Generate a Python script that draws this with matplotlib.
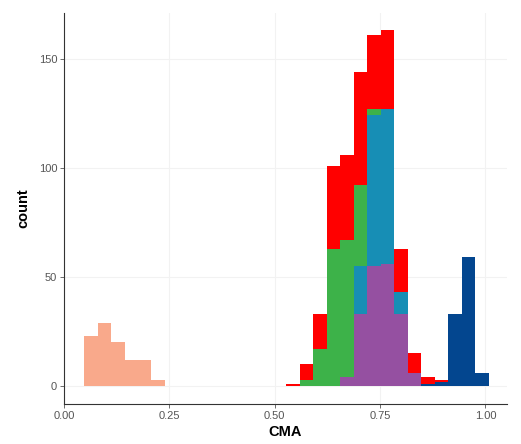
import matplotlib.pyplot as plt
import numpy as np

# histogram bins (30 bins)
bin_start = 0.0474
bin_width = 0.032
n_bins = 30

# counts per bin for each group (bin index -> count)
orange = {0: 23, 1: 29, 2: 20, 3: 12, 4: 12, 5: 3}
purple = {19: 4, 20: 33, 21: 55, 22: 56, 23: 33, 24: 6}
teal = {20: 22, 21: 69, 22: 71, 23: 10}
green = {16: 3, 17: 17, 18: 63, 19: 63, 20: 37, 21: 3}
blue = {25: 1, 26: 2, 27: 33, 28: 59, 29: 6}
red = {15: 1, 16: 7, 17: 16, 18: 38, 19: 39, 20: 52, 21: 34, 22: 36,
       23: 20, 24: 9, 25: 3, 26: 1}

# bottom -> top stacking order
groups = [
    (orange, '#F9A98B'),
    (blue, '#03468F'),
    (purple, '#9550A1'),
    (teal, '#178EB5'),
    (green, '#3DB249'),
    (red, '#FF0000'),
]

x_ticks = [0.00, 0.25, 0.50, 0.75, 1.00]
x_labels = ['0.00', '0.25', '0.50', '0.75', '1.00']
y_ticks = [0, 50, 100, 150]

plt.rcParams['font.family'] = ['Liberation Sans', 'DejaVu Sans']

fig = plt.figure(figsize=(5.21, 4.44), dpi=100)
ax = fig.add_axes([0.123, 0.090, 0.850, 0.881])

left_edges = bin_start + bin_width * np.arange(n_bins)
bottom = np.zeros(n_bins)
for counts, color in groups:
    h = np.zeros(n_bins)
    for k, v in counts.items():
        h[k] = v
    ax.bar(left_edges, h, width=bin_width, bottom=bottom, align='edge',
           color=color, edgecolor='none', linewidth=0, zorder=2)
    bottom += h

ax.set_xlim(0, 1.051)
ax.set_ylim(-8.2, 171)
ax.set_xticks(x_ticks)
ax.set_xticklabels(x_labels)
ax.set_yticks(y_ticks)

ax.grid(True, color='#f2f2f2', linewidth=0.8, zorder=0)
ax.set_axisbelow(True)

for s in ['top', 'right']:
    ax.spines[s].set_visible(False)
for s in ['left', 'bottom']:
    ax.spines[s].set_color('#333333')
    ax.spines[s].set_linewidth(0.8)

ax.tick_params(axis='both', length=3, width=0.6, color='#555555',
               labelsize=8, labelcolor='#555555', pad=2)

ax.set_xlabel('CMA', fontsize=10.5, fontweight='bold', labelpad=3)
ax.set_ylabel('count', fontsize=10.5, fontweight='bold', labelpad=6)

plt.savefig('out.png', dpi=100, facecolor='white')
